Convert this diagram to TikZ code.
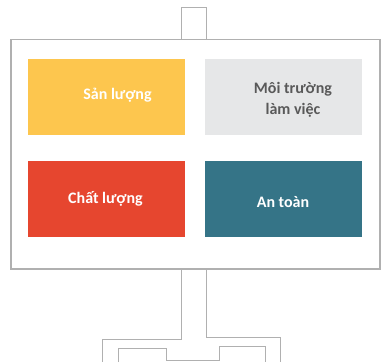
\documentclass[tikz,border=0pt]{standalone}
\usepackage{fontspec}
\setmainfont{Carlito}
\definecolor{bdgray}{RGB}{176,176,176}
\definecolor{slyellow}{RGB}{253,198,78}
\definecolor{mtgray}{RGB}{230,231,232}
\definecolor{clred}{RGB}{230,70,47}
\definecolor{atteal}{RGB}{53,116,135}
\definecolor{txgray}{RGB}{89,89,89}
\tikzset{
  panel/.style={draw=none,minimum width=157pt,minimum height=76pt,inner sep=0pt},
  paneltext/.style={font=\bfseries\fontsize{16}{21}\selectfont,align=center,inner sep=0pt}
}
\begin{document}
\begin{tikzpicture}[x=1pt,y=-1pt]
\useasboundingbox (0,0) rectangle (383,362); %Same size as the reference
%Post above the board
\draw[bdgray,line width=1pt] (181.7,40)--(181.7,7.5)--(206.7,7.5)--(206.7,40);
%Stand below the board
\draw[bdgray,line width=1pt] (181.7,269)--(181.7,339)--(102.7,339)--(102.7,362); %Left outer edge
\draw[bdgray,line width=1pt] (206.7,269)--(206.7,337.3)--(280.7,337.3)--(280.7,362); %Right outer edge
\draw[bdgray,line width=1pt] (118.3,362)--(118.3,348.3)--(166.7,348.3)--(166.7,360.7)--(219,360.7)--(219,346.7)--(265.7,346.7)--(265.7,362); %Inner edge
%Board
\draw[bdgray,line width=1.2pt,fill=white] (11,39.5) rectangle (380,269);
%Four panels
\node[panel,fill=slyellow] (sanluong) at (106.5,97) {};
\node[panel,fill=mtgray] (moitruong) at (283.5,97) {};
\node[panel,fill=clred] (chatluong) at (106.5,199) {};
\node[panel,fill=atteal] (antoan) at (283.5,199) {};
%Panel texts
\node[paneltext,white] (sanluongtext) at (117.5,95) {Sản lượng};
\node[paneltext,txgray] (moitruongtext) at (293,99.5) {Môi trường\\làm việc};
\node[paneltext,white] (chatluongtext) at (105.5,199) {Chất lượng};
\node[paneltext,white] (antoantext) at (283,202) {An toàn};
\end{tikzpicture}
\end{document}
